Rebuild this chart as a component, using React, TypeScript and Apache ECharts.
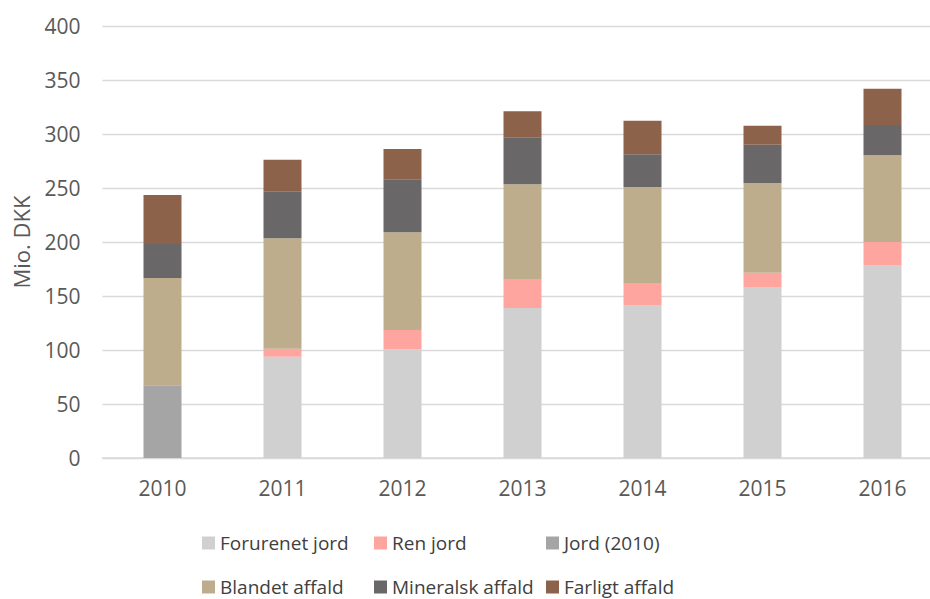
import React, { useEffect, useRef } from "react";
import * as echarts from "echarts";

const years = ["2010", "2011", "2012", "2013", "2014", "2015", "2016"];
const forurenetJord = [null, 93.8, 100.9, 138.9, 141.7, 158.3, 178.7];
const renJord = [null, 7.4, 17.6, 26.2, 20.3, 13.3, 21.3];
const jord2010 = [67.3, null, null, null, null, null, null];
const blandetAffald = [99.4, 102.2, 90.5, 88.3, 88.9, 83.0, 80.3];
const mineralskAffald = [31.4, 43.5, 49.0, 43.5, 30.3, 35.5, 28.0];
const farligtAffald = [45.4, 29.3, 28.1, 24.1, 31.1, 17.6, 33.6];

const seriesNames = [
  "Forurenet jord",
  "Ren jord",
  "Jord (2010)",
  "Blandet affald",
  "Mineralsk affald",
  "Farligt affald",
];
const seriesData = [forurenetJord, renJord, jord2010, blandetAffald, mineralskAffald, farligtAffald];
const colors = ["#d0d0d0", "#ffa59f", "#a5a5a5", "#bead8d", "#696767", "#8d624a"];

const FONT = "'Open Sans', sans-serif";

export default function App() {
  const ref = useRef<HTMLDivElement>(null);
  useEffect(() => {
    if (!ref.current) return;
    const chart = echarts.init(ref.current, undefined, { renderer: "svg" });
    const legendPos = [
      [202, 533.5],
      [374, 533.5],
      [546, 533.5],
      [202, 577.5],
      [374, 577.5],
      [546, 577.5],
    ];
    chart.setOption({
      animation: false,
      backgroundColor: "#ffffff",
      grid: { left: 102.5, top: 26, width: 840, height: 432 },
      xAxis: {
        type: "category",
        data: years,
        axisLine: { lineStyle: { color: "#d9d9d9", width: 1.5 } },
        axisTick: { show: false },
        axisLabel: { color: "#595959", fontSize: 21, fontFamily: FONT, margin: 19 },
      },
      yAxis: {
        type: "value",
        min: 0,
        max: 400,
        interval: 50,
        name: "Mio. DKK",
        nameLocation: "middle",
        nameGap: 71,
        nameRotate: 90,
        nameTextStyle: { color: "#595959", fontSize: 22, fontFamily: FONT },
        axisLine: { show: false },
        axisTick: { show: false },
        splitLine: { lineStyle: { color: "#d9d9d9", width: 1.3 } },
        axisLabel: { color: "#595959", fontSize: 21, fontFamily: FONT, margin: 22 },
      },
      legend: seriesNames.map((n, i) => ({
        data: [n],
        left: legendPos[i][0],
        top: legendPos[i][1],
        padding: 0,
        icon: "rect",
        itemWidth: 13,
        itemHeight: 13,
        selectedMode: false,
        textStyle: { color: "#404040", fontSize: 19, fontFamily: FONT },
      })),
      series: seriesNames.map((n, i) => ({
        name: n,
        type: "bar",
        stack: "total",
        barWidth: 38,
        data: seriesData[i],
        itemStyle: { color: colors[i] },
      })),
    });
    return () => chart.dispose();
  }, []);
  return (
    <div
      style={{
        position: "absolute",
        left: 0,
        top: 0,
        width: 930,
        height: 599,
        overflow: "hidden",
      }}
    >
      <div ref={ref} style={{ width: 960, height: 599 }} />
    </div>
  );
}
